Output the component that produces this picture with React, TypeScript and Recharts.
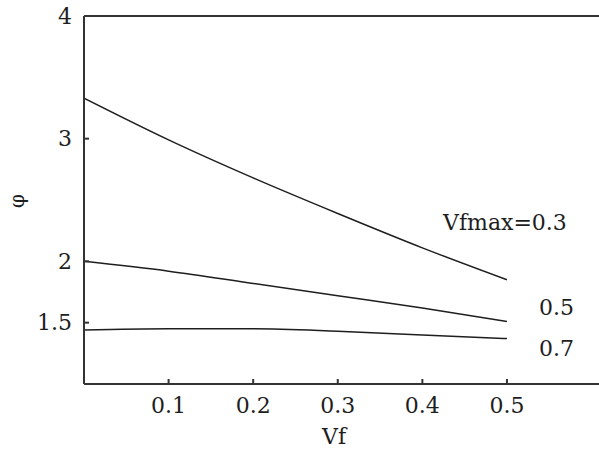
import { LineChart, Line, XAxis, YAxis, ReferenceLine } from 'recharts';

const vf = [0, 0.1, 0.2, 0.3, 0.4, 0.5];
const phiMax03 = [3.33, 2.99, 2.68, 2.39, 2.11, 1.85];
const phiMax05 = [2.0, 1.92, 1.82, 1.72, 1.62, 1.51];
const phiMax07 = [1.44, 1.45, 1.45, 1.43, 1.4, 1.37];

const xTicks = [0.1, 0.2, 0.3, 0.4, 0.5];
const yTicks = [1.5, 2, 3, 4];

const curveLabels = [
  { text: 'Vfmax=0.3', left: 443, top: 206 },
  { text: '0.5', left: 539, top: 291 },
  { text: '0.7', left: 539, top: 332 },
];

const data = vf.map((x, i) => ({ vf: x, a: phiMax03[i], b: phiMax05[i], c: phiMax07[i] }));

const font = '"DejaVu Serif", "Liberation Serif", serif';
const ink = '#1e1e1e';

export default function App() {
  return (
    <div style={{ position: 'absolute', left: 0, top: 0, width: 600, height: 454, fontFamily: font }}>
      <LineChart width={600} height={454} data={data} margin={{ top: 16, right: 0, left: 0, bottom: 0 }}>
        <XAxis
          dataKey="vf"
          type="number"
          domain={[0, 0.61]}
          ticks={xTicks}
          allowDataOverflow
          height={70}
          tickSize={-5}
          tickMargin={18}
          stroke="#333"
          strokeWidth={2}
          tick={{ fontFamily: font, fontSize: 22, fill: ink }}
        />
        <YAxis
          type="number"
          domain={[1, 4]}
          ticks={yTicks}
          width={84}
          tickSize={-5}
          tickMargin={17}
          stroke="#333"
          strokeWidth={2}
          tick={{ fontFamily: font, fontSize: 22, fill: ink }}
        />
        <ReferenceLine y={4} stroke="#333" strokeWidth={2} />
        <Line dataKey="a" type="monotone" stroke={ink} strokeWidth={1.5} dot={false} isAnimationActive={false} />
        <Line dataKey="b" type="monotone" stroke={ink} strokeWidth={1.5} dot={false} isAnimationActive={false} />
        <Line dataKey="c" type="monotone" stroke={ink} strokeWidth={1.5} dot={false} isAnimationActive={false} />
      </LineChart>

      {curveLabels.map((l) => (
        <div
          key={l.text}
          style={{ position: 'absolute', left: l.left, top: l.top, fontSize: 22, color: ink, whiteSpace: 'nowrap', lineHeight: '34px' }}
        >
          {l.text}
        </div>
      ))}

      <div style={{ position: 'absolute', left: 322, top: 420, fontSize: 22, color: ink, lineHeight: '34px' }}>Vf</div>
      <div
        style={{
          position: 'absolute',
          left: 10,
          top: 190,
          fontSize: 20,
          color: ink,
          lineHeight: '22px',
          transform: 'rotate(-90deg)',
        }}
      >
        φ
      </div>
    </div>
  );
}
